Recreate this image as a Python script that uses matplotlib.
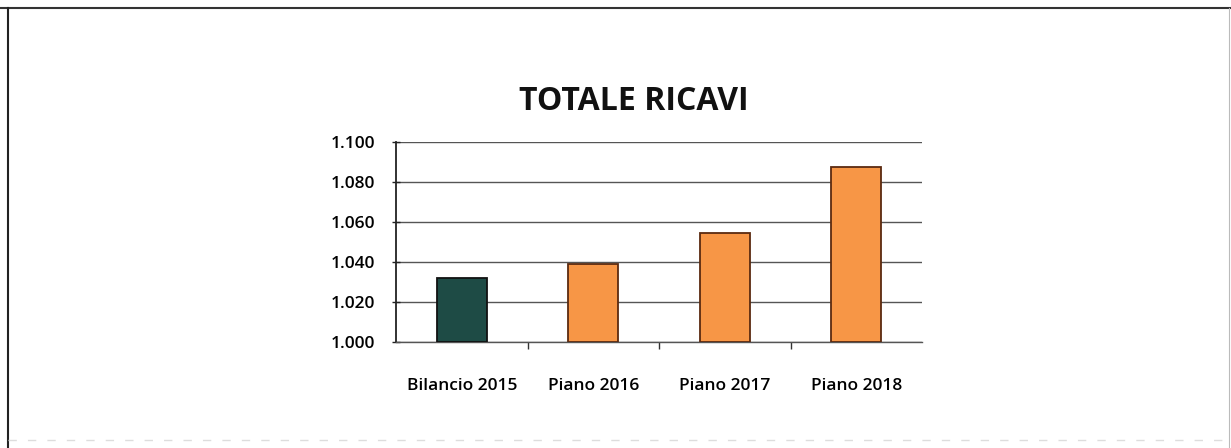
import matplotlib.pyplot as plt
from matplotlib.lines import Line2D

# dati
categorie = ['Bilancio 2015', 'Piano 2016', 'Piano 2017', 'Piano 2018']
ricavi = [1.032, 1.039, 1.0545, 1.0875]
colori = ['#1e4b45', '#f79646', '#f79646', '#f79646']
bordi = ['#111111', '#5a2a10', '#5a2a10', '#5a2a10']
yticks = [1.000, 1.020, 1.040, 1.060, 1.080, 1.100]
ytick_labels = ['1.000', '1.020', '1.040', '1.060', '1.080', '1.100']

plt.rcParams['font.family'] = ['Open Sans', 'DejaVu Sans']

fig = plt.figure(figsize=(12.31, 4.48), dpi=100)
ax = fig.add_axes([396/1231, 1 - 342/448, 526/1231, 200/448])

x = list(range(len(categorie)))
ax.bar(x, [v - 1.0 for v in ricavi], bottom=1.0, width=0.38,
       color=colori, edgecolor=bordi, linewidth=1.3, zorder=3)

ax.set_xlim(-0.5, len(categorie) - 0.5)
ax.set_ylim(1.0, 1.1)
ax.set_yticks(yticks)
ax.set_yticklabels(ytick_labels, fontsize=12.5, fontweight='semibold')
ax.set_xticks(x)
ax.set_xticklabels(categorie, fontsize=12.5, fontweight='semibold')
ax.set_xticks([0.5, 1.5, 2.5], minor=True)
ax.tick_params(axis='x', which='major', length=0, pad=26)
ax.tick_params(axis='x', which='minor', length=5, width=1, color='#333333', direction='out')
ax.tick_params(axis='y', length=6, width=1, color='#222222', direction='inout', pad=12)

ax.grid(axis='y', color='#555555', linewidth=1.0, zorder=0)
for s in ['top', 'right']:
    ax.spines[s].set_visible(False)
ax.spines['left'].set_color('#222222')
ax.spines['left'].set_linewidth(1.3)
ax.spines['bottom'].set_color('#555555')
ax.spines['bottom'].set_linewidth(1.0)

fig.text(634/1231, 1 - 101/448, 'TOTALE RICAVI', ha='center', va='center',
         fontsize=23, fontweight='bold', color='#111111')

# cornice del documento scansionato
fig.add_artist(Line2D([0, 1], [1 - 8/448, 1 - 8/448], color='#333333', linewidth=1.5))
fig.add_artist(Line2D([8/1231, 8/1231], [0, 1 - 8/448], color='#222222', linewidth=1.5))
fig.add_artist(Line2D([1229/1231, 1229/1231], [0, 1 - 8/448], color='#bbbbbb', linewidth=0.8))
fig.add_artist(Line2D([8/1231, 1], [1 - 440/448, 1 - 440/448], color='#dddddd',
                      linewidth=1.0, linestyle=(0, (6, 8))))

fig.savefig('out.png', dpi=100)
